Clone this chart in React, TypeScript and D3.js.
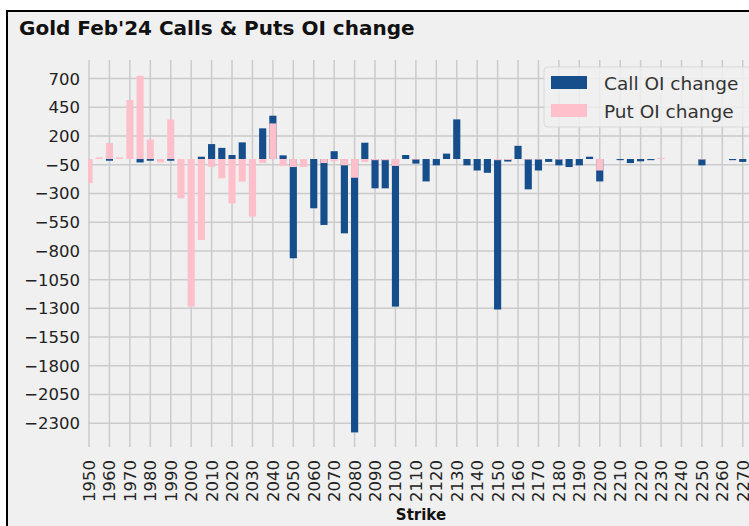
import React, { useRef, useEffect } from "react";
import * as d3 from "d3";

// strike -> OI change
const strikes = [
  1950, 1955, 1960, 1965, 1970, 1975, 1980, 1985, 1990, 1995,
  2000, 2005, 2010, 2015, 2020, 2025, 2030, 2035, 2040, 2045,
  2050, 2055, 2060, 2065, 2070, 2075, 2080, 2085, 2090, 2095,
  2100, 2105, 2110, 2115, 2120, 2125, 2130, 2135, 2140, 2145,
  2150, 2155, 2160, 2165, 2170, 2175, 2180, 2185, 2190, 2195,
  2200, 2205, 2210, 2215, 2220, 2225, 2230, 2235, 2240, 2245,
  2250, 2255, 2260, 2265, 2270,
];
const callOI = [
  0, 0, -15, 0, 0, -30, -15, 0, -15, 0,
  0, 20, 130, 97, 35, 145, 0, 267, 377, 32,
  -864, 0, -429, -574, 68, -647, -2380, 142, -255, -255,
  -1285, 35, -40, -195, -55, 47, 345, -55, -100, -120,
  -1310, -22, 115, -264, -100, -25, -55, -70, -55, 20,
  -195, 0, -10, -35, -20, -10, 0, 0, 0, 0,
  -55, 0, 0, -10, -25,
];
const putOI = [
  -210, 15, 140, 15, 513, 725, 170, -30, 345, -342,
  -1285, -705, -68, -168, -386, -197, -502, -35, 310, -60,
  -70, -70, 0, -35, -20, -55, -163, -25, -10, -10,
  -60, 0, -5, 0, 0, 0, 0, 0, 0, 0,
  -10, -8, 0, -5, -5, 0, -5, 0, 0, 0,
  -100, 0, 0, 0, 0, 0, 10, 0, 0, 0,
  -5, 0, 0, 0, 0,
];
const yTicks = [700, 450, 200, -50, -300, -550, -800, -1050, -1300, -1550, -1800, -2050, -2300];
const xTicks = [
  1950, 1960, 1970, 1980, 1990, 2000, 2010, 2020, 2030, 2040, 2050,
  2060, 2070, 2080, 2090, 2100, 2110, 2120, 2130, 2140, 2150, 2160,
  2170, 2180, 2190, 2200, 2210, 2220, 2230, 2240, 2250, 2260, 2270,
];
const seriesNames = ["Call OI change", "Put OI change"];

const W = 749;
const H = 526;
const FONT = "DejaVu Sans";
const CALL_COLOR = "#164e8c";
const PUT_COLOR = "#ffc0cb";

const OIChart = () => {
  const ref = useRef<SVGSVGElement | null>(null);

  useEffect(() => {
    const svg = d3.select(ref.current);
    svg.selectAll("*").remove();

    const left = 88, right = 754, top = 60, bottom = 447;

    const x = d3.scaleLinear().domain([1949.5, 2275.5]).range([left, right]);
    const y = d3.scaleLinear().domain([-2507, 862]).range([bottom, top]);
    const barW = x(1953.5) - x(1950);

    // page + frame
    svg.append("rect").attr("width", W).attr("height", H).attr("fill", "#ffffff");
    svg.append("rect")
      .attr("x", 7).attr("y", 11)
      .attr("width", W + 10).attr("height", H + 10)
      .attr("fill", "#f0f0f0")
      .attr("stroke", "#000").attr("stroke-width", 2);

    svg.append("defs").append("clipPath").attr("id", "plotclip")
      .append("rect")
      .attr("x", left).attr("y", top)
      .attr("width", right - left).attr("height", bottom - top);

    // grid
    const grid = svg.append("g").attr("stroke", "#cbcbcb").attr("stroke-width", 1.5);
    grid.selectAll("line.v").data(xTicks).join("line")
      .attr("class", "v")
      .attr("x1", d => x(d)).attr("x2", d => x(d))
      .attr("y1", top).attr("y2", bottom);
    grid.selectAll("line.h").data(yTicks).join("line")
      .attr("class", "h")
      .attr("x1", left).attr("x2", right)
      .attr("y1", d => y(d)).attr("y2", d => y(d));

    // bars: calls first, puts drawn over them
    const bars = svg.append("g").attr("clip-path", "url(#plotclip)");
    bars.selectAll("rect.call").data(strikes).join("rect")
      .attr("class", "call")
      .attr("x", d => x(d) - barW / 2)
      .attr("width", barW)
      .attr("y", (d, i) => y(Math.max(0, callOI[i])))
      .attr("height", (d, i) => Math.abs(y(callOI[i]) - y(0)))
      .attr("fill", CALL_COLOR);
    bars.selectAll("rect.put").data(strikes).join("rect")
      .attr("class", "put")
      .attr("x", d => x(d) - barW / 2)
      .attr("width", barW)
      .attr("y", (d, i) => y(Math.max(0, putOI[i])))
      .attr("height", (d, i) => Math.abs(y(putOI[i]) - y(0)))
      .attr("fill", PUT_COLOR);

    // y tick labels
    svg.append("g").selectAll("text").data(yTicks).join("text")
      .attr("x", 80)
      .attr("y", d => y(d))
      .attr("dy", "0.36em")
      .attr("text-anchor", "end")
      .attr("font-family", FONT)
      .attr("font-size", 16.5)
      .attr("fill", "#222")
      .text(d => d3.format("")(d).replace("-", "\u2212"));

    // x tick labels, rotated (the last one runs off the edge, as in the source)
    svg.append("g").selectAll("text").data(xTicks).join("text")
      .attr("transform", d => `translate(${x(d)},460) rotate(-90)`)
      .attr("dy", "0.36em")
      .attr("text-anchor", "end")
      .attr("font-family", FONT)
      .attr("font-size", 16.5)
      .attr("fill", "#222")
      .text(d => String(d));

    svg.append("text")
      .attr("x", 421).attr("y", 520)
      .attr("text-anchor", "middle")
      .attr("font-family", FONT)
      .attr("font-weight", "bold")
      .attr("font-size", 15)
      .attr("fill", "#111")
      .text("Strike");

    svg.append("text")
      .attr("x", 19).attr("y", 35)
      .attr("font-family", FONT)
      .attr("font-weight", "bold")
      .attr("font-size", 20)
      .attr("fill", "#111")
      .text("Gold Feb'24 Calls & Puts OI change");

    // legend
    const lg = svg.append("g");
    lg.append("rect")
      .attr("x", 544).attr("y", 67)
      .attr("width", 230).attr("height", 60)
      .attr("rx", 4)
      .attr("fill", "#f0f0f0").attr("fill-opacity", 0.85)
      .attr("stroke", "#d8d8d8").attr("stroke-width", 1);
    const colors = [CALL_COLOR, PUT_COLOR];
    seriesNames.forEach((name, i) => {
      lg.append("rect")
        .attr("x", 551).attr("y", 76 + i * 28)
        .attr("width", 36).attr("height", 13)
        .attr("fill", colors[i]);
      lg.append("text")
        .attr("x", 604).attr("y", 90 + i * 28)
        .attr("font-family", FONT)
        .attr("font-size", 18.5)
        .attr("fill", "#333")
        .text(name);
    });
  }, []);

  return (
    <svg
      ref={ref}
      width={W}
      height={H}
      style={{ position: "absolute", left: 0, top: 0 }}
    />
  );
};

export default function App() {
  return <OIChart />;
}
